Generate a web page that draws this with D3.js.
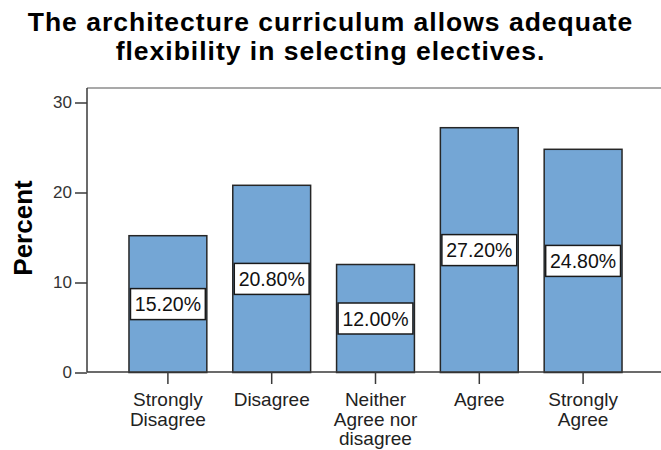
<!DOCTYPE html>
<html>
<head>
<meta charset="utf-8">
<script src="https://cdn.jsdelivr.net/npm/d3@7"></script>
<style>
  html, body { margin: 0; padding: 0; background: #fff; }
  svg { display: block; font-family: Arial, "Liberation Sans", sans-serif; }
</style>
</head>
<body>
<svg id="chart" width="661" height="450"></svg>
<script>
// Survey responses (percent of respondents)
const categories = [
  ["Strongly", "Disagree"],
  ["Disagree"],
  ["Neither", "Agree nor", "disagree"],
  ["Agree"],
  ["Strongly", "Agree"]
];
const values = [15.2, 20.8, 12.0, 27.2, 24.8];
const valueLabels = ["15.20%", "20.80%", "12.00%", "27.20%", "24.80%"];
const yTicks = [0, 10, 20, 30];
const titleLines = ["The architecture curriculum allows adequate", "flexibility in selecting electives."];

const svg = d3.select("#chart");
const W = 661;
const frame = { left: 87, top: 88, bottom: 372, right: 661 };

const keys = categories.map((c, i) => i);
const x = d3.scaleBand().domain(keys).range([116, 635]).paddingInner(0.25).paddingOuter(0.125);
const y = d3.scaleLinear().domain([0, 30]).range([372.5, 102.5]);

// Title, two lines
svg.append("g").selectAll("text").data(titleLines).join("text")
  .attr("text-anchor", "middle")
  .attr("x", W / 2).attr("y", (d, i) => 30.5 + i * 29.8)
  .style("font-size", "26.5px").style("font-weight", "bold").style("letter-spacing", "1px")
  .attr("fill", "#000")
  .text(d => d);

// Top frame line
svg.append("line")
  .attr("x1", frame.left).attr("x2", frame.right)
  .attr("y1", frame.top).attr("y2", frame.top)
  .attr("stroke", "#8c8c8c").attr("stroke-width", 1.5);

// Bars
const bars = svg.append("g");
bars.selectAll("rect").data(values).join("rect")
  .attr("x", (d, i) => x(i))
  .attr("y", d => y(d))
  .attr("width", x.bandwidth())
  .attr("height", d => y(0) - y(d))
  .attr("fill", "#74a6d5")
  .attr("stroke", "#262626")
  .attr("stroke-width", 1.5);

// Value label boxes at bar mid-height
const lab = svg.append("g");
const boxH = 31;
lab.selectAll("rect").data(values).join("rect")
  .attr("x", (d, i) => x(i) + 1.5)
  .attr("y", d => y(d / 2) - boxH / 2)
  .attr("width", x.bandwidth() - 3)
  .attr("height", boxH)
  .attr("fill", "#fff")
  .attr("stroke", "#1a1a1a")
  .attr("stroke-width", 1.5);
lab.selectAll("text").data(values).join("text")
  .attr("x", (d, i) => x(i) + x.bandwidth() / 2)
  .attr("y", d => y(d / 2) + 7)
  .attr("text-anchor", "middle")
  .style("font-size", "19.5px").attr("fill", "#111")
  .text((d, i) => valueLabels[i]);

// Y axis
const yAxis = svg.append("g")
  .attr("transform", `translate(${frame.left},0)`)
  .call(d3.axisLeft(y).tickValues(yTicks).tickSize(12).tickPadding(3).tickFormat(d3.format("d")));
yAxis.select(".domain").attr("d", `M0,${frame.top}V${frame.bottom}`).attr("stroke", "#3a3a3a").attr("stroke-width", 1.5);
yAxis.selectAll(".tick line").attr("stroke", "#3a3a3a").attr("stroke-width", 1.5);
yAxis.selectAll(".tick text").style("font-size", "17px").style("font-family", "Arial, 'Liberation Sans', sans-serif").attr("fill", "#333");

// X axis
const xAxis = svg.append("g")
  .attr("transform", `translate(0,${frame.bottom})`)
  .call(d3.axisBottom(x).tickSize(12).tickFormat(""));
xAxis.select(".domain").attr("d", `M${frame.left},0H${frame.right}`).attr("stroke", "#3a3a3a").attr("stroke-width", 1.5);
xAxis.selectAll(".tick line").attr("stroke", "#3a3a3a").attr("stroke-width", 1.5);

// Category labels (multi-line)
const cat = svg.append("g");
categories.forEach((lines, i) => {
  const t = cat.append("text")
    .attr("text-anchor", "middle")
    .style("font-size", "19px").attr("fill", "#222");
  lines.forEach((ln, j) => {
    t.append("tspan")
      .attr("x", x(i) + x.bandwidth() / 2)
      .attr("y", 406 + j * 19.5)
      .text(ln);
  });
});

// Y axis title
svg.append("text")
  .attr("transform", "translate(31.5,228) rotate(-90)")
  .attr("text-anchor", "middle")
  .style("font-size", "26px").style("font-weight", "bold").attr("fill", "#000")
  .text("Percent");
</script>
</body>
</html>
